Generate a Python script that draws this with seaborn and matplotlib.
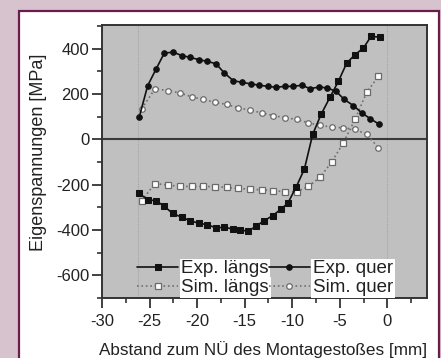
import matplotlib
matplotlib.use('Agg')
import matplotlib.pyplot as plt
import seaborn as sns
import pandas as pd
from matplotlib.patches import Rectangle
from matplotlib.ticker import MultipleLocator

# Exp. längs (filled squares)
exp_laengs_x = [-26.07, -25.20, -24.32, -23.45, -22.57, -21.62, -20.75, -19.80, -18.92, -18.01,
                -17.14, -16.26, -15.49, -14.61, -13.81, -12.93, -12.05, -11.18, -10.48, -9.60,
                -8.72, -7.85, -6.97, -6.03, -5.15, -4.27, -3.40, -2.52, -1.71, -0.77]
exp_laengs_y = [-239, -267, -271, -296, -327, -344, -359, -371, -377, -391,
                -388, -396, -400, -406, -383, -359, -337, -308, -283, -212,
                -131, 22, 110, 186, 256, 337, 374, 403, 455, 451]

# Exp. quer (filled circles)
exp_quer_x = [-26.07, -25.20, -24.32, -23.45, -22.50, -21.62, -20.75, -19.80, -18.92, -18.01,
              -17.14, -16.19, -15.31, -14.37, -13.46, -12.58, -11.70, -10.76, -9.88, -9.00,
              -8.13, -7.15, -6.31, -5.39, -4.52, -3.57, -2.70, -1.82, -0.84]
exp_quer_y = [100, 237, 310, 381, 385, 370, 362, 352, 344, 334,
              293, 259, 252, 245, 239, 234, 230, 234, 234, 239,
              224, 231, 227, 212, 176, 149, 117, 92, 66]

# Simulation x positions
sim_x = [-25.83, -24.43, -23.02, -21.80, -20.57, -19.34, -18.12, -16.89, -15.66, -14.44,
         -13.21, -11.98, -10.76, -9.53, -8.30, -7.08, -5.85, -4.62, -3.40, -2.17, -0.94]
# Sim. längs (open squares)
sim_laengs_y = [-271, -195, -202, -208, -208, -208, -209, -212, -217, -220,
                -223, -227, -231, -231, -208, -168, -100, -15, 88, 208, 278]
# Sim. quer (open circles)
sim_quer_y = [135, 223, 215, 205, 188, 176, 164, 154, 139, 129,
              117, 105, 95, 88, 73, 62, 54, 51, 44, 22, -37]

series_labels = ['Exp. längs', 'Exp. quer', 'Sim. längs', 'Sim. quer']
x_ticks = [-30, -25, -20, -15, -10, -5, 0]
y_ticks = [-600, -400, -200, 0, 200, 400]

sns.set_theme(style='ticks')
plt.rcParams['font.family'] = ['Liberation Sans', 'DejaVu Sans']
plt.rcParams['axes.unicode_minus'] = False

fig = plt.figure(figsize=(4.41, 3.58), dpi=100)
fig.patch.set_facecolor('#d6c3ce')
fig.patches.append(Rectangle((18.5 / 441, -0.1), 420.5 / 441, 1.1 - 10.5 / 358,
                             transform=fig.transFigure, facecolor='white',
                             edgecolor='#6b1b4d', lw=1.6, zorder=-1))

ax = fig.add_axes([102 / 441, 1 - 298.3 / 358, 325.3 / 441, 273.3 / 358])
ax.set_facecolor('#c0c0c0')

ax.axvline(-26.2, color='#a6a6a6', lw=0.8, ls=(0, (1, 1)), zorder=1)
ax.axvline(0, color='#a6a6a6', lw=0.8, ls=(0, (1, 1)), zorder=1)
ax.axhline(0, color='#3a3a3a', lw=1.5, zorder=1.5)

sim_kw = dict(color='#6e6e6e', lw=1.2, linestyle=':', markersize=4.8,
              markerfacecolor='white', markeredgecolor='#6a6a6a', markeredgewidth=0.9)
exp_kw = dict(color='#111111', lw=1.2, markersize=4.8,
              markerfacecolor='#111111', markeredgecolor='#111111')

sns.lineplot(x=sim_x, y=sim_quer_y, ax=ax, marker='o', label=series_labels[3],
             estimator=None, sort=False, zorder=2, **sim_kw)
sns.lineplot(x=sim_x, y=sim_laengs_y, ax=ax, marker='s', label=series_labels[2],
             estimator=None, sort=False, zorder=2, **sim_kw)
sns.lineplot(x=exp_quer_x, y=exp_quer_y, ax=ax, marker='o', label=series_labels[1],
             estimator=None, sort=False, zorder=3, **exp_kw)
sns.lineplot(x=exp_laengs_x, y=exp_laengs_y, ax=ax, marker='s', label=series_labels[0],
             estimator=None, sort=False, zorder=3, **exp_kw)

ax.set_xlim(-30, 4.2)
ax.set_ylim(-702, 505)
ax.set_xticks(x_ticks)
ax.set_yticks(y_ticks)
ax.xaxis.set_minor_locator(MultipleLocator(2.5))
ax.yaxis.set_minor_locator(MultipleLocator(100))
ax.tick_params(axis='both', which='major', direction='out', length=7, width=1.3,
               color='#333333', labelsize=12, labelcolor='#222222', pad=2)
ax.tick_params(axis='x', which='major', pad=4)
ax.tick_params(axis='both', which='minor', direction='out', length=3.5, width=1.2,
               color='#333333')
for s in ax.spines.values():
    s.set_color('#333333')
    s.set_linewidth(1.4)

ax.set_xlabel('Abstand zum NÜ des Montagestoßes [mm]', fontsize=12.3, color='#222222')
ax.set_ylabel('Eigenspannungen [MPa]', fontsize=13, color='#222222')
ax.xaxis.set_label_coords(0.495, -0.155)
ax.yaxis.set_label_coords(-0.17, 0.535)

handles, labels = ax.get_legend_handles_labels()
# column-major fill: column 1 = längs, column 2 = quer
leg_order = ['Exp. längs', 'Sim. längs', 'Exp. quer', 'Sim. quer']
handles = [handles[labels.index(l)] for l in leg_order]
for h in handles:
    h.set_markersize(4)
leg = ax.legend(handles, leg_order, ncol=2, loc='lower left',
                bbox_to_anchor=(0.108, 0.008), frameon=False, fontsize=13.5,
                handlelength=2.2, handletextpad=0.15, columnspacing=0.0,
                labelspacing=0.08, borderpad=0.0, borderaxespad=0.0)
for t in leg.get_texts():
    t.set_color('#222222')
    t.set_bbox(dict(facecolor='white', edgecolor='none', pad=1.2))

fig.savefig('out.png', dpi=100, facecolor=fig.get_facecolor())
